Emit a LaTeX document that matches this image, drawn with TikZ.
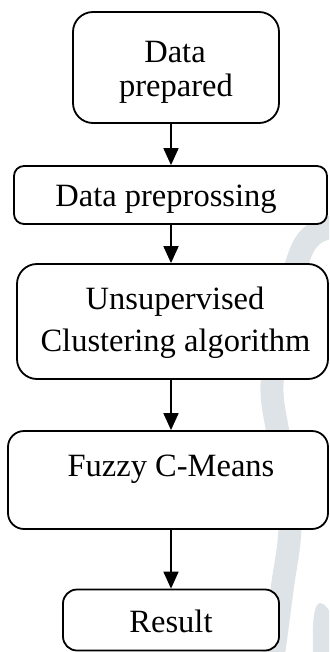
\documentclass[tikz,border=0pt]{standalone}
\usepackage{fontspec}
\setmainfont{Liberation Serif}
\usetikzlibrary{arrows.meta}
\definecolor{wm}{RGB}{221,227,230}
\tikzset{
  box/.style={draw=black, line width=1.8pt, fill=white, inner sep=0pt},
  txt/.style={anchor=base, inner sep=0pt, font=\fontsize{32.5}{37}\selectfont},
  arr/.style={line width=1.8pt, -{Triangle[length=17pt,width=15pt]}},
}
\begin{document}
\begin{tikzpicture}[x=1pt,y=-1pt]
\useasboundingbox (0,0) rectangle (329,652);
% watermark
\begin{scope}
\clip (0,0) rectangle (329,652);
\draw[wm, line width=23pt] plot[smooth, tension=0.6] coordinates
  {(336,226) (314,234) (299,257) (283,320) (272,385) (279,440) (290,520) (282,590) (272,665)};
\fill[wm] (313,652) .. controls (312,620) and (314,604) .. (320,603)
  .. controls (325,603) and (329,610) .. (333,618) -- (333,652) -- cycle;
\end{scope}
% boxes
\node[box, rounded corners=20pt, minimum width=206pt, minimum height=111pt] (b1) at (176,67.5) {};
\node[box, rounded corners=10pt, minimum width=313pt, minimum height=58pt] (b2) at (170.5,195) {};
\node[box, rounded corners=20pt, minimum width=311pt, minimum height=115pt] (b3) at (172.5,321.5) {};
\node[box, rounded corners=16pt, minimum width=320pt, minimum height=98pt] (b4) at (168,480) {};
\node[box, rounded corners=14pt, minimum width=216pt, minimum height=61pt] (b5) at (171,620) {};
% texts
\node[txt] (t1a) at (175,63) {Data};
\node[txt] (t1b) at (176,97) {prepared};
\node[txt] (t2) at (166,207) {Data preprossing};
\node[txt] (t3a) at (175,309.5) {Unsupervised};
\node[txt] (t3b) at (175.5,351) {Clustering algorithm};
\node[txt] (t4) at (171,476) {Fuzzy C-Means};
\node[txt] (t5) at (171,632) {Result};
% arrows
\coordinate (ax) at (171,0);
\draw[arr] (b1.south -| ax) -- (b2.north -| ax);
\draw[arr] (b2.south -| ax) -- (b3.north -| ax);
\draw[arr] (b3.south -| ax) -- (b4.north -| ax);
\draw[arr] (b4.south -| ax) -- (b5.north -| ax);
\end{tikzpicture}
\end{document}
